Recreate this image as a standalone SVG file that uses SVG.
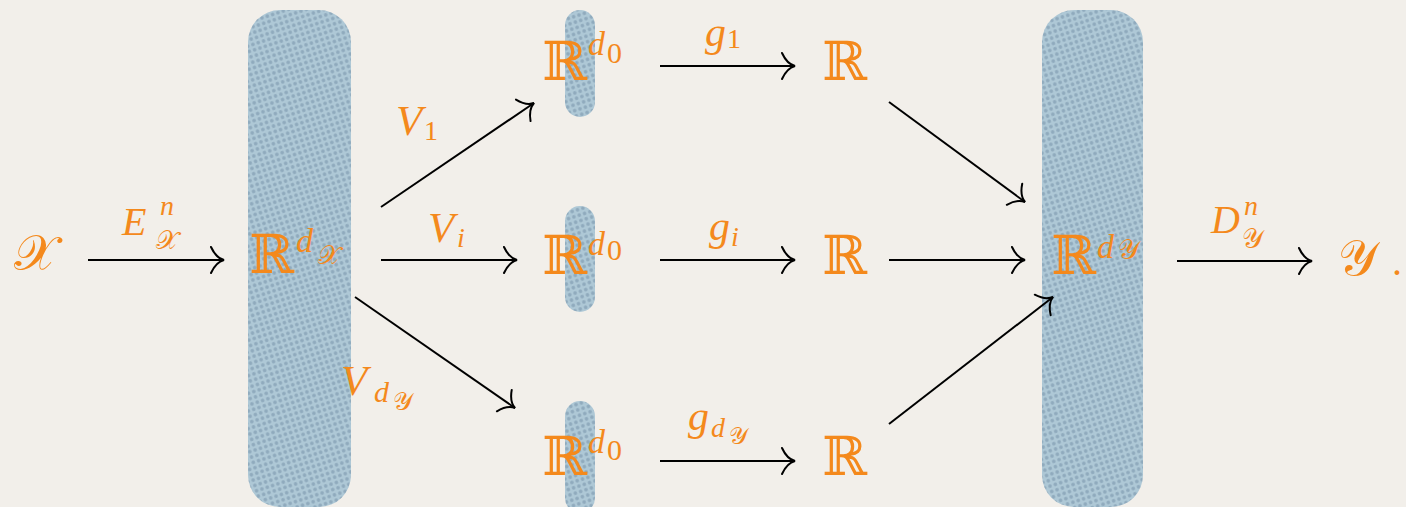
<svg xmlns="http://www.w3.org/2000/svg" width="1406" height="507" viewBox="0 0 1406 507">
<defs>
<style>
text{fill:#f4891c;font-family:"Liberation Serif",serif}
.m{font-style:italic}
.bb{font-family:"DejaVu Serif",serif;font-size:54px}
.cal{font-family:"DejaVu Serif","DejaVu Sans",serif;font-style:normal}
.bar{fill:url(#dots)}
.c line{stroke:#000;stroke-width:2;marker-end:url(#to)}
</style>
<pattern id="dots" width="5.6" height="5.6" patternUnits="userSpaceOnUse" patternTransform="rotate(-18)">
<rect width="5.6" height="5.6" fill="#aec8d6"/>
<circle cx="2.8" cy="2.8" r="1.8" fill="#8faabd"/>
</pattern>
<marker id="to" viewBox="-15 -15 17 30" markerWidth="17" markerHeight="30" refX="0" refY="0" orient="auto" markerUnits="userSpaceOnUse">
<path d="M-13,-13 Q-8,-2 0,0 Q-8,2 -13,13" fill="none" stroke="#000" stroke-width="2" stroke-linecap="round"/>
</marker>
</defs>
<rect width="1406" height="507" fill="#f2efea"/>
<g id="bar-x"><rect class="bar" x="248" y="10" width="103" height="497" rx="32"/></g>
<g id="bar-y"><rect class="bar" x="1042" y="10" width="101" height="497" rx="32"/></g>
<g id="bar-1"><rect class="bar" x="565" y="10" width="30" height="107" rx="15"/></g>
<g id="bar-i"><rect class="bar" x="565" y="206" width="30" height="106" rx="15"/></g>
<g id="bar-d"><rect class="bar" x="565" y="401" width="30" height="112" rx="15"/></g>
<g class="c" id="connectors">
<line x1="88" y1="260" x2="224" y2="260"/>
<line x1="381" y1="207" x2="534" y2="103"/>
<line x1="381" y1="260" x2="517" y2="260"/>
<line x1="355" y1="297" x2="515" y2="408"/>
<line x1="660" y1="66" x2="795" y2="66"/>
<line x1="660" y1="260" x2="795" y2="260"/>
<line x1="660" y1="461" x2="795" y2="461"/>
<line x1="889" y1="102" x2="1025" y2="202"/>
<line x1="889" y1="260" x2="1025" y2="260"/>
<line x1="889" y1="424" x2="1053" y2="297"/>
<line x1="1177" y1="261" x2="1312" y2="261"/>
</g>
<g id="X"><text class="cal" x="14" y="270" font-size="50">𝒳</text></g>
<g id="E"><text><tspan class="m" x="122" y="235" font-size="40">E</tspan><tspan class="m" x="160" y="215" font-size="28">n</tspan><tspan class="cal" x="156" y="249" font-size="26">𝒳</tspan></text></g>
<g id="Rdx"><text><tspan class="bb" x="249" y="273">ℝ</tspan><tspan class="m" x="296" y="252" font-size="34">d</tspan><tspan class="cal" x="318" y="264" font-size="26">𝒳</tspan></text></g>
<g id="V1"><text><tspan class="m" x="396" y="135" font-size="43">V</tspan><tspan x="424" y="140" font-size="28">1</tspan></text></g>
<g id="Vi"><text><tspan class="m" x="428" y="242" font-size="43">V</tspan><tspan class="m" x="457" y="247" font-size="28">i</tspan></text></g>
<g id="Vd"><text><tspan class="m" x="341" y="395" font-size="43">V</tspan><tspan class="m" x="374" y="402" font-size="30">d</tspan><tspan class="cal" x="393" y="410" font-size="25">𝒴</tspan></text></g>
<g id="R0a"><text><tspan class="bb" x="542" y="80">ℝ</tspan><tspan class="m" x="588" y="55" font-size="34">d</tspan><tspan x="607" y="63" font-size="30">0</tspan></text></g>
<g id="R0b"><text><tspan class="bb" x="542" y="274">ℝ</tspan><tspan class="m" x="588" y="255" font-size="34">d</tspan><tspan x="607" y="260" font-size="30">0</tspan></text></g>
<g id="R0c"><text><tspan class="bb" x="542" y="475">ℝ</tspan><tspan class="m" x="588" y="453" font-size="34">d</tspan><tspan x="607" y="460" font-size="30">0</tspan></text></g>
<g id="g1"><text><tspan class="m" x="705" y="46" font-size="42">g</tspan><tspan x="727" y="48" font-size="28">1</tspan></text></g>
<g id="gi"><text><tspan class="m" x="709" y="240" font-size="42">g</tspan><tspan class="m" x="731" y="246" font-size="28">i</tspan></text></g>
<g id="gd"><text><tspan class="m" x="688" y="430" font-size="42">g</tspan><tspan class="m" x="711" y="437" font-size="28">d</tspan><tspan class="cal" x="729" y="444" font-size="24">𝒴</tspan></text></g>
<g id="Ra"><text class="bb" x="822" y="80">ℝ</text></g>
<g id="Rb"><text class="bb" x="822" y="274">ℝ</text></g>
<g id="Rc"><text class="bb" x="822" y="475">ℝ</text></g>
<g id="Rdy"><text><tspan class="bb" x="1051" y="274">ℝ</tspan><tspan class="m" x="1097" y="258" font-size="34">d</tspan><tspan class="cal" x="1118" y="259" font-size="27">𝒴</tspan></text></g>
<g id="D"><text><tspan class="m" x="1211" y="233" font-size="40">D</tspan><tspan class="m" x="1244" y="215" font-size="28">n</tspan><tspan class="cal" x="1242" y="248" font-size="27">𝒴</tspan></text></g>
<g id="Y"><text><tspan class="cal" x="1338" y="275" font-size="50">𝒴</tspan><tspan x="1392" y="275" font-size="40">.</tspan></text></g>
</svg>
